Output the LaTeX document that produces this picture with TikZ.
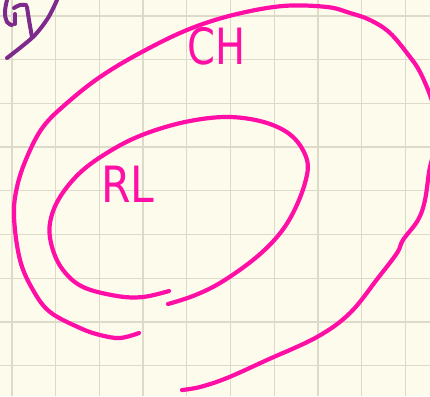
\documentclass[tikz,border=0pt]{standalone}
\usepackage{fontspec}
\setsansfont{DejaVu Sans}
\definecolor{paper}{HTML}{FDFBEC}
\definecolor{gridc}{HTML}{DEDACA}
\definecolor{ink}{HTML}{FF0FA6}
\definecolor{violet}{HTML}{7E2A8C}
\begin{document}
\begin{tikzpicture}[x=1pt,y=-1pt,
  pen/.style={ink,line width=4.2pt,line cap=round,line join=round},
  vpen/.style={violet,line width=4pt,line cap=round,line join=round},
  label/.style={ink,font=\sffamily\fontsize{50}{50}\selectfont,inner sep=0pt}]
\fill[paper] (0,0) rectangle (430,396);
\useasboundingbox (0,0) rectangle (430,396);
\foreach \i in {0,...,9} {\draw[gridc,line width=1.3pt] ({12+43.7*\i},0) -- ({12+43.7*\i},396);}
\foreach \i in {0,...,8} {\draw[gridc,line width=1.3pt] (0,{16+43.7*\i}) -- (430,{16+43.7*\i});}
% outer curve
\draw[pen] plot[smooth,tension=0.6] coordinates {(139,333) (120,338) (100,335) (80,328) (50,312) (33,290) (20,260) (14,217) (17,187) (27,157) (43,127) (67,103) (100,77) (140,53) (187,30) (233,15) (283,6) (327,7) (350,13) (370,20) (390,33) (410,57) (420,72) (430,95) (437,118)};
\draw[pen] plot[smooth,tension=0.6] coordinates {(437,145) (430,167) (425,200) (418,220) (403,240) (397,253) (378,278) (350,313) (317,337) (267,360) (227,378) (200,387) (182,390)};
% inner curve
\draw[pen] plot[smooth,tension=0.6] coordinates {(169,291) (143,297) (117,296) (83,287) (63,270) (52,247) (50,223) (60,197) (83,170) (117,147) (150,132) (190,121) (230,117) (267,123) (293,137) (307,160) (305,183) (293,213) (277,237) (253,260) (220,283) (193,296) (168,304)};
% labels
\node[label] (ch) at (217,46) {\scalebox{0.8}[1]{CH}};
\node[label] (rl) at (128,184) {\scalebox{0.85}[1]{RL}};
% purple mark
\draw[vpen] plot[smooth,tension=0.7] coordinates {(7,0) (5,12) (7,22) (12,25)};
\draw[vpen] plot[smooth,tension=0.7] coordinates {(14,8) (20,5) (26,5)};
\draw[vpen] (15,14) -- (15,24);
\draw[vpen] plot[smooth,tension=0.7] coordinates {(27,7) (29,20) (32,37)};
\draw[vpen] plot[smooth,tension=0.5] coordinates {(7,58) (33,37) (48,18) (57,0)};
\end{tikzpicture}
\end{document}
